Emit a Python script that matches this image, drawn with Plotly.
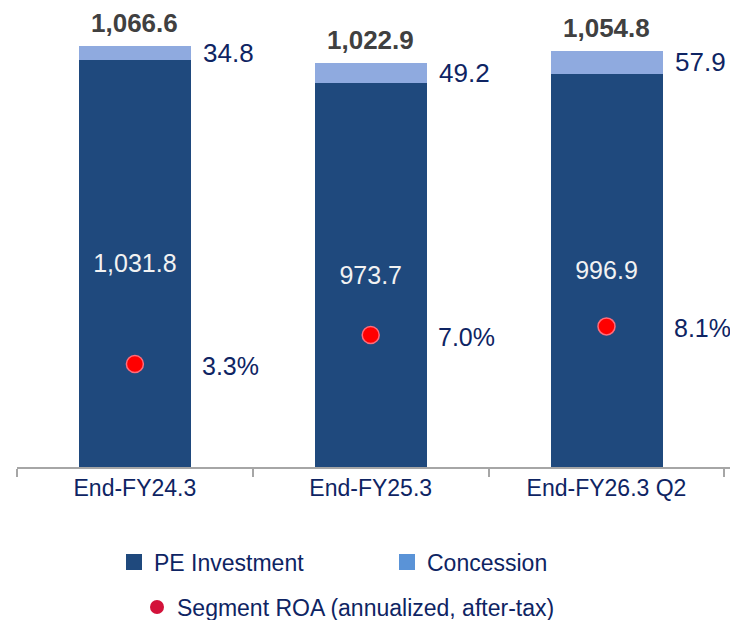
import plotly.graph_objects as go

# data
periods = ["End-FY24.3", "End-FY25.3", "End-FY26.3 Q2"]
pe_investment = [1031.8, 973.7, 996.9]
concession = [34.8, 49.2, 57.9]
totals = [1066.6, 1022.9, 1054.8]
roa = [3.3, 7.0, 8.1]

PE_COLOR = "#1F497D"
CON_COLOR = "#8FAADF"
CON_LEGEND = "#5A93D7"
ROA_COLOR = "#FF0000"
ROA_LEGEND = "#D3123A"
NAVY = "#0E2463"
FONT = "Liberation Sans, Arial, sans-serif"

fig = go.Figure()

# stacked bars
fig.add_trace(go.Bar(
    x=periods, y=pe_investment, name="PE Investment",
    marker=dict(color=PE_COLOR, line=dict(width=0)),
    width=0.475,
    texttemplate="%{y:,.1f}", textposition="inside", insidetextanchor="middle",
    constraintext="none",
    textfont=dict(color="#F2F2F2", size=25, family=FONT),
    showlegend=False,
))
fig.add_trace(go.Bar(
    x=periods, y=concession, name="Concession",
    marker=dict(color=CON_COLOR, line=dict(width=0)),
    width=0.475, showlegend=False,
))

# ROA dots on secondary axis
fig.add_trace(go.Scatter(
    x=periods, y=roa, yaxis="y2", mode="markers",
    marker=dict(color=ROA_COLOR, size=17, line=dict(color="#FF6C7A", width=1.5)),
    showlegend=False,
))

# legend-only entries (legend swatches differ slightly from the bars)
fig.add_trace(go.Scatter(
    x=[None], y=[None], mode="markers", name="PE Investment", legend="legend",
    marker=dict(symbol="square", color=PE_COLOR, size=16),
))
fig.add_trace(go.Scatter(
    x=[None], y=[None], mode="markers", name="Concession", legend="legend",
    marker=dict(symbol="square", color=CON_LEGEND, size=16),
))
fig.add_trace(go.Scatter(
    x=[None], y=[None], mode="markers", name="Segment ROA (annualized, after-tax)",
    legend="legend2", yaxis="y2",
    marker=dict(symbol="circle", color=ROA_LEGEND, size=14),
))

annotations = []
for p, pe, c, t, r in zip(periods, pe_investment, concession, totals, roa):
    # total above bar
    annotations.append(dict(
        x=p, y=t, xref="x", yref="y", text=f"<b>{t:,.1f}</b>", showarrow=False,
        yanchor="bottom", yshift=6,
        font=dict(size=26, color="#404040", family=FONT),
    ))
    # concession value beside bar
    annotations.append(dict(
        x=p, y=pe + c / 2, xref="x", yref="y", text=f"{c:,.1f}", showarrow=False,
        xanchor="left", xshift=66,
        font=dict(size=26, color=NAVY, family=FONT),
    ))
    # ROA value
    annotations.append(dict(
        x=p, y=r, xref="x", yref="y2", text=f"{r:.1f}%", showarrow=False,
        xanchor="center", xshift=96, yshift=-2,
        font=dict(size=25, color=NAVY, family=FONT),
    ))

# page body adds an 8px offset, so margins are pulled in by that much
fig.update_layout(
    width=738, height=620,
    margin=dict(l=9, r=13, t=32, b=161, autoexpand=False),
    paper_bgcolor="white", plot_bgcolor="white",
    barmode="stack", bargap=0.5,
    font=dict(family=FONT, color=NAVY),
    xaxis=dict(
        showline=True, linecolor="#A6A6A6", linewidth=1.5,
        ticks="outside", tickson="boundaries", ticklen=8, tickcolor="#A6A6A6", tickwidth=1.5,
        tickfont=dict(size=23, color=NAVY, family=FONT),
        showgrid=False, zeroline=False, automargin=False,
    ),
    yaxis=dict(visible=False, range=[0, 1081.8], fixedrange=True),
    yaxis2=dict(visible=False, overlaying="y", range=[-9.84, 44.64]),
    legend=dict(
        orientation="h", xref="container", yref="container", traceorder="normal",
        x=106 / 738, y=1 - 554 / 620, xanchor="left", yanchor="middle",
        font=dict(size=23, color=NAVY, family=FONT),
        entrywidth=228, entrywidthmode="pixels",
        bgcolor="rgba(0,0,0,0)",
    ),
    legend2=dict(
        orientation="h", xref="container", yref="container",
        x=129 / 738, y=1 - 599 / 620, xanchor="left", yanchor="middle",
        font=dict(size=23, color=NAVY, family=FONT),
        bgcolor="rgba(0,0,0,0)",
    ),
    annotations=annotations,
)

fig.write_html("out.html")
